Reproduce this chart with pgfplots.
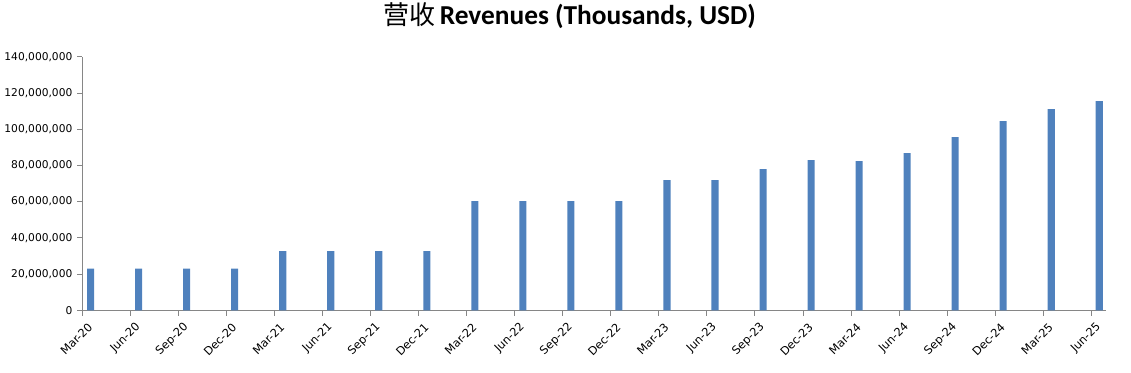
\documentclass[border=0pt]{standalone}
\usepackage{pgfplots}
\pgfplotsset{compat=1.18}
\usepackage{fontspec}
\setmainfont{DejaVu Sans}
\newfontfamily\titlefont{Carlito}
\newfontfamily\cjk{Noto Sans CJK SC}
\definecolor{barblue}{HTML}{4F81BD}
\definecolor{axgray}{HTML}{868686}
\begin{document}
\begin{tikzpicture}
\begin{axis}[
  name=ax,
  scale only axis,
  width=767pt, height=190pt,
  xmin=0, xmax=21.31,
  ymin=0, ymax=140000000,
  ytick={0,20000000,...,140000000},
  scaled y ticks=false,
  /pgf/number format/fixed,
  /pgf/number format/1000 sep={,},
  /pgf/number format/assume math mode=true,
  yticklabel style={font=\fontsize{8}{9}\selectfont, text=black},
  xtick={0,...,21},
  xticklabels={Mar-20,Jun-20,Sep-20,Dec-20,Mar-21,Jun-21,Sep-21,Dec-21,Mar-22,Jun-22,Sep-22,Dec-22,Mar-23,Jun-23,Sep-23,Dec-23,Mar-24,Jun-24,Sep-24,Dec-24,Mar-25,Jun-25},
  xticklabel style={font=\fontsize{8.5}{9}\selectfont, xshift=6pt, yshift=-7pt, rotate=45, anchor=east, inner sep=0pt, text=black},
  axis lines*=left,
  axis line style={axgray, line width=0.6pt},
  tick style={axgray, line width=0.6pt},
  tick align=outside,
  major tick length=4pt,
  ybar, bar width=5.3pt,
  title={{\cjk\fontsize{19.5}{21}\selectfont 营收} \titlefont\bfseries\fontsize{20.5}{22}\selectfont Revenues (Thousands, USD)},
  title style={at={(0.476,1)}, anchor=base, yshift=18.5pt, inner sep=0pt},
]
\addplot[fill=barblue, draw=none] coordinates {
(0.17,23000000) (1.17,23000000) (2.17,23000000) (3.17,23000000)
(4.17,32600000) (5.17,32600000) (6.17,32600000) (7.17,32600000)
(8.17,60200000) (9.17,60200000) (10.17,60200000) (11.17,60200000)
(12.17,71800000) (13.17,71800000) (14.17,77900000) (15.17,82900000)
(16.17,82300000) (17.17,86700000) (18.17,95600000) (19.17,104400000)
(20.17,111000000) (21.17,115500000)
};
\end{axis}
\path (ax.south east) ++(18.75pt,-47pt) coordinate (rb);
\path (ax.north west) ++(0pt,42.5pt) coordinate (lt);
\path[use as bounding box] (rb) rectangle (rb);
\path[use as bounding box] (lt) rectangle (lt);
\end{tikzpicture}
\end{document}
